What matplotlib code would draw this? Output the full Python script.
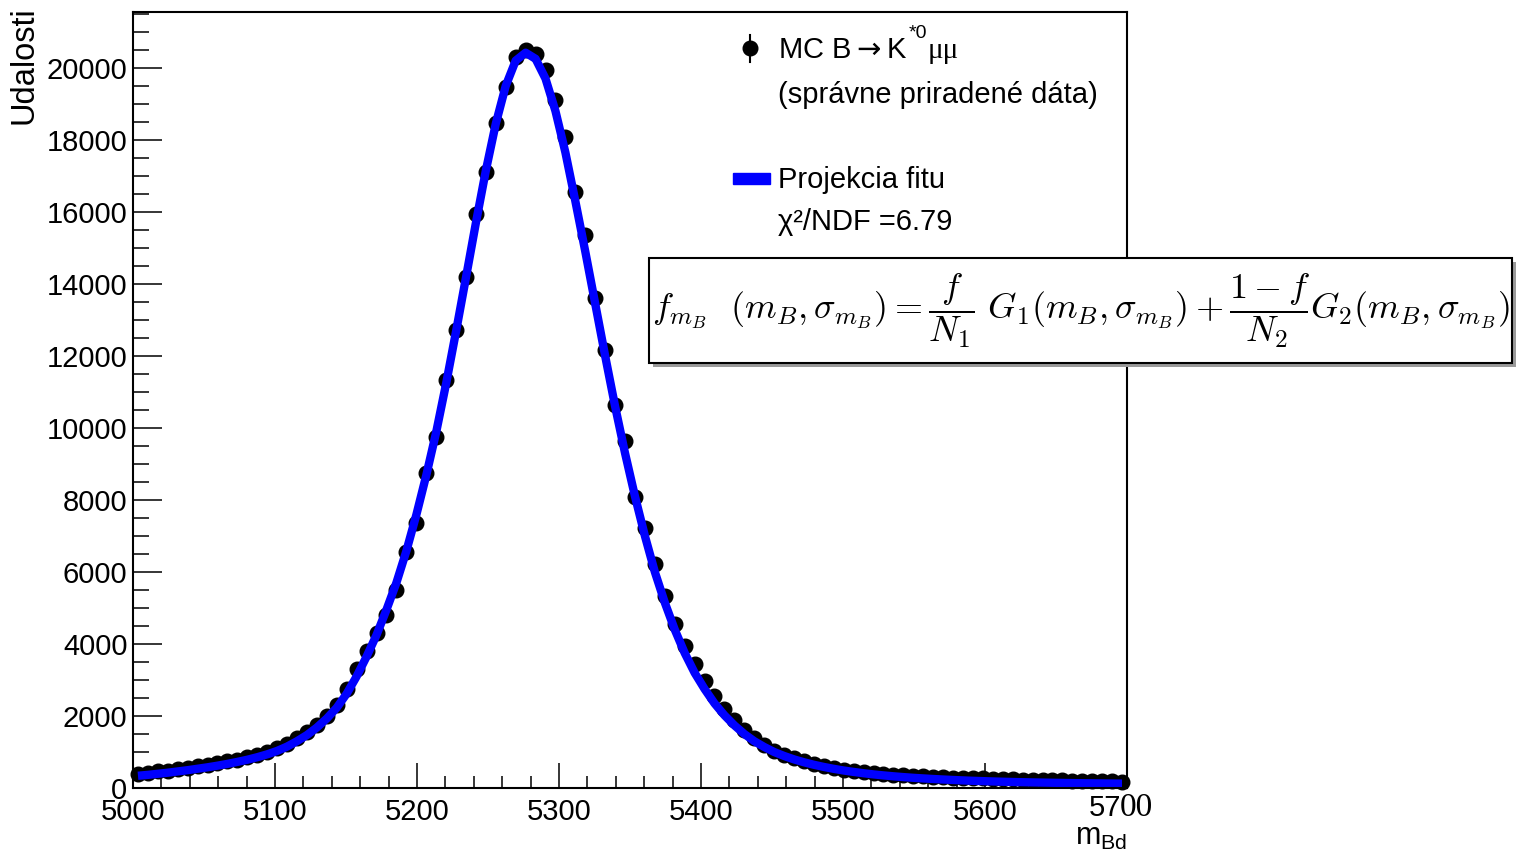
import numpy as np
import matplotlib
matplotlib.use("Agg")
import matplotlib.pyplot as plt
from matplotlib.patches import Rectangle
from matplotlib.lines import Line2D
from matplotlib.ticker import MultipleLocator, FixedLocator, FixedFormatter

plt.rcParams['font.family'] = ['Liberation Sans', 'DejaVu Sans']

# histogram: 100 bins of 7 MeV between 5000 and 5700
bin_lo, bin_hi, n_bins = 5000, 5700, 100

counts = [400, 430, 470, 480, 520, 560, 600, 640, 690, 740,
          790, 850, 920, 1000, 1100, 1230, 1380, 1550, 1750, 2000,
          2300, 2750, 3300, 3800, 4300, 4800, 5500, 6540, 7370, 8760,
          9740, 11320, 12710, 14190, 15940, 17110, 18470, 19470, 20300, 20500,
          20380, 19950, 19110, 18080, 16550, 15360, 13600, 12160, 10630, 9650,
          8070, 7210, 6230, 5340, 4560, 3950, 3450, 2980, 2550, 2200,
          1880, 1600, 1380, 1190, 1040, 920, 820, 740, 670, 610,
          560, 510, 470, 440, 410, 380, 365, 350, 335, 320,
          310, 300, 290, 280, 272, 265, 258, 250, 243, 236,
          230, 224, 218, 212, 206, 200, 195, 190, 185, 180]

fit_vals = [340, 365, 395, 425, 460, 495, 535, 575, 620, 670,
            725, 785, 855, 935, 1030, 1150, 1300, 1470, 1680, 1930,
            2230, 2620, 3100, 3650, 4250, 4950, 5700, 6580, 7580, 8680,
            9880, 11230, 12680, 14180, 15700, 17150, 18450, 19500, 20200, 20420,
            20250, 19700, 18800, 17650, 16300, 14900, 13450, 12000, 10600, 9300,
            8100, 7000, 6000, 5150, 4400, 3750, 3200, 2750, 2350, 2020,
            1740, 1500, 1300, 1140, 1000, 890, 795, 715, 645, 585,
            532, 486, 446, 410, 378, 350, 325, 303, 283, 266,
            250, 236, 223, 211, 200, 191, 182, 174, 167, 161,
            155, 150, 145, 141, 137, 133, 130, 127, 124, 122]

x_ticks = [5000, 5100, 5200, 5300, 5400, 5500, 5600, 5700]
y_ticks = [0, 2000, 4000, 6000, 8000, 10000, 12000, 14000, 16000, 18000, 20000]

W, H = 1519, 860
fig = plt.figure(figsize=(W / 100, H / 100), dpi=100)

def px(x, y):
    return x / W, 1 - y / H

ax = fig.add_axes([133 / W, 1 - 788 / H, 994 / W, 776 / H])

edges = np.linspace(bin_lo, bin_hi, n_bins + 1)
centers = 0.5 * (edges[:-1] + edges[1:])
counts = np.array(counts)

ax.errorbar(centers, counts, yerr=np.sqrt(counts), fmt='o', color='black',
            ms=10.5, elinewidth=1.5, capsize=0, zorder=2, clip_on=False)
ax.plot(centers, fit_vals, color='#0000ff', lw=6, zorder=3, solid_capstyle='butt')

ax.set_xlim(bin_lo, bin_hi)
ax.set_ylim(0, 21550)
ax.xaxis.set_major_locator(FixedLocator(x_ticks))
ax.xaxis.set_major_formatter(FixedFormatter([str(t) for t in x_ticks[:-1]] + ['']))
ax.xaxis.set_minor_locator(MultipleLocator(20))
ax.yaxis.set_major_locator(FixedLocator(y_ticks))
ax.yaxis.set_minor_locator(MultipleLocator(500))
ax.tick_params(which='both', direction='in', width=1.1, labelsize=21, top=False, right=False, zorder=5)
ax.tick_params(axis='x', which='major', length=18, pad=7.5)
ax.tick_params(axis='x', which='minor', length=8.6)
ax.tick_params(axis='y', which='major', length=21, pad=4)
ax.tick_params(axis='y', which='minor', length=11.5)
for s in ax.spines.values():
    s.set_linewidth(1.5)
    s.set_zorder(5)

# last x tick label (partly overwritten in a serif font in the original)
fig.text(*px(1121, 808), '57', fontsize=21, ha='right', va='center')
fig.text(*px(1120, 808), '00', fontsize=24, ha='left', va='center', family='Liberation Serif')

# axis titles
fig.text(*px(24, 6), 'Udalosti', fontsize=23.5, rotation=90, ha='center', va='top')
fig.text(*px(1127, 822), r'm$_{\mathregular{Bd}}$', fontsize=22, ha='right', va='top')

# legend
fig.add_artist(Line2D([750 / W, 750 / W], [1 - 35 / H, 1 - 62 / H], color='black', lw=1.5))
fig.add_artist(Line2D([750 / W], [1 - 48 / H], marker='o', ms=10.5, color='black'))
fig.text(*px(778, 58), r'MC B$\rightarrow$K', fontsize=21, ha='left', va='baseline',
         math_fontfamily='dejavusans')
fig.text(*px(909, 38), '*0', fontsize=14, ha='left', va='baseline')
fig.text(*px(928, 58), '\u03bc\u03bc', fontsize=21, ha='left', va='baseline', family='Liberation Serif')
fig.text(*px(778, 103), '(správne priradené dáta)', fontsize=21, ha='left', va='baseline')
fig.add_artist(Rectangle(px(733, 184), 37 / W, 11 / H, color='#0000ff'))
fig.text(*px(778, 188), 'Projekcia fitu', fontsize=21, ha='left', va='baseline')
fig.text(*px(778, 230), '\u03c7\u00b2/NDF =6.79', fontsize=21, ha='left', va='baseline')

# formula box with shadow
fig.add_artist(Rectangle(px(653, 367), (1512 - 649) / W, (363 - 258) / H,
                         facecolor='#9a9a9a', edgecolor='none', zorder=6))
fig.add_artist(Rectangle(px(649, 363), (1512 - 649) / W, (363 - 258) / H,
                         facecolor='white', edgecolor='black', lw=1.5, zorder=7))
formula = (r'$f_{m_B}\ \ (m_B, \sigma_{m_B}) = \dfrac{f}{N_1}\ G_1(m_B, \sigma_{m_B})'
           r' + \dfrac{1-f}{N_2}G_2(m_B, \sigma_{m_B})$')
fig.text(*px(1081, 311), formula, fontsize=26, ha='center', va='center',
         math_fontfamily='cm', zorder=8)

fig.savefig('out.png', dpi=100)
